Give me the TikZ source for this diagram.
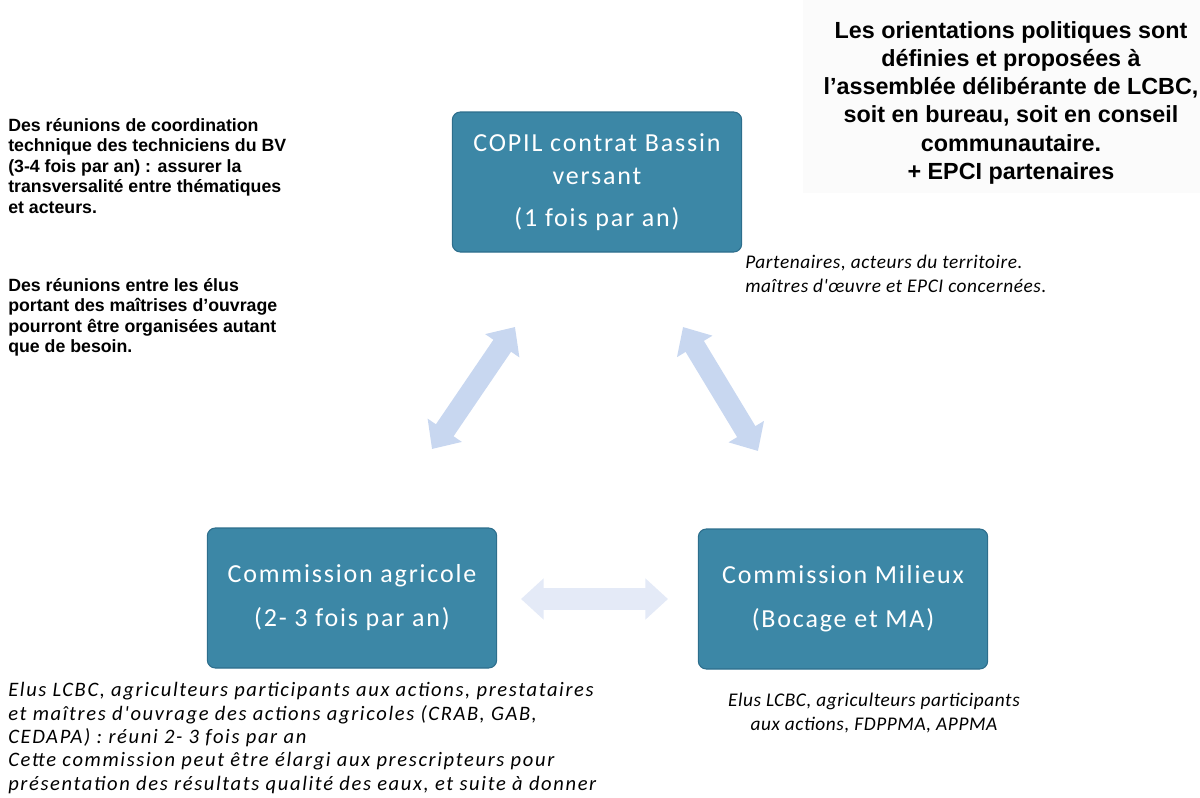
\documentclass[tikz,border=0pt]{standalone}
\usepackage{fontspec}
\setmainfont{Liberation Sans}
\newfontfamily\carlwide[LetterSpace=7]{Carlito}
\newfontfamily\noteS[LetterSpace=3]{Carlito}
\newfontfamily\noteW[LetterSpace=8]{Carlito}
\usetikzlibrary{arrows.meta}
\definecolor{boxblue}{RGB}{60,135,166}
\definecolor{boxedge}{RGB}{45,110,140}
\definecolor{arrowblue}{RGB}{200,215,240}
\definecolor{arrowpale}{RGB}{228,234,247}
\definecolor{notegray}{RGB}{251,251,251}
\begin{document}
\begin{tikzpicture}[x=0.75pt,y=-0.75pt,
  bluebox/.style={draw=boxedge, line width=0.8pt, fill=boxblue, rounded corners=6pt,
    minimum width=217pt, minimum height=105pt, align=center, text=white,
    font=\carlwide\fontsize{19.5}{25}\selectfont, inner sep=0pt},
  blockarrow/.style={line width=16pt, draw=arrowblue,
    {Triangle[width=30pt,length=17pt]}-{Triangle[width=30pt,length=17pt]}},
  paleArrow/.style={blockarrow, draw=arrowpale},
  boldnote/.style={align=left, inner sep=0pt, font=\bfseries\fontsize{13.3}{15.4}\selectfont},
  itnote/.style={inner sep=0pt, font=\noteS\itshape\fontsize{14.5}{17.6}\selectfont}]
\useasboundingbox (0,0) rectangle (1200,797);
\fill[notegray] (803,0) rectangle (1200,193);

% boxes
\node[bluebox] (copil) at (597,182) {COPIL contrat Bassin\\versant\\[6pt](1 fois par an)};
\node[bluebox] (agri) at (352,598) {Commission agricole\\[8pt](2- 3 fois par an)};
\node[bluebox] (milieux) at (843,599) {Commission Milieux\\[8pt](Bocage et MA)};

% arrows
\coordinate (la1) at (515,327);
\coordinate (la2) at (432,449);
\coordinate (ra1) at (683,327);
\coordinate (ra2) at (758,451);
\coordinate (ha1) at (521,599);
\coordinate (ha2) at (668,599);
\draw[blockarrow] (la1) -- (la2);
\draw[blockarrow] (ra1) -- (ra2);
\draw[paleArrow] (ha1) -- (ha2);

% notes
\node[boldnote, anchor=north west] (n1) at (8,118) {Des réunions de coordination\\technique des techniciens du BV\\(3-4 fois par an) : assurer la\\transversalité entre thématiques\\et acteurs.};
\node[boldnote, anchor=north west] (n2) at (8,278) {Des réunions entre les élus\\portant des maîtrises d'ouvrage\\pourront être organisées autant\\que de besoin.};
\node[align=center, inner sep=0pt, font=\bfseries\fontsize{17.5}{21.2}\selectfont, anchor=north] (n3) at (1011,21) {Les orientations politiques sont\\définies et proposées à\\l'assemblée délibérante de LCBC,\\soit en bureau, soit en conseil\\communautaire.\\+ EPCI partenaires};
\node[itnote, align=left, anchor=north west] (n4) at (745,255) {Partenaires, acteurs du territoire.\\maîtres d'œuvre et EPCI concernées.};
\node[itnote, align=left, anchor=north west, font=\noteW\itshape\fontsize{15.4}{17.6}\selectfont] (n5) at (8,682) {Elus LCBC, agriculteurs participants aux actions, prestataires\\et maîtres d'ouvrage des actions agricoles (CRAB, GAB,\\CEDAPA) : réuni 2- 3 fois par an\\Cette commission peut être élargi aux prescripteurs pour\\présentation des résultats qualité des eaux, et suite à donner};
\node[itnote, align=center, anchor=north] (n6) at (874,693) {Elus LCBC, agriculteurs participants\\aux actions, FDPPMA, APPMA};
\end{tikzpicture}
\end{document}
